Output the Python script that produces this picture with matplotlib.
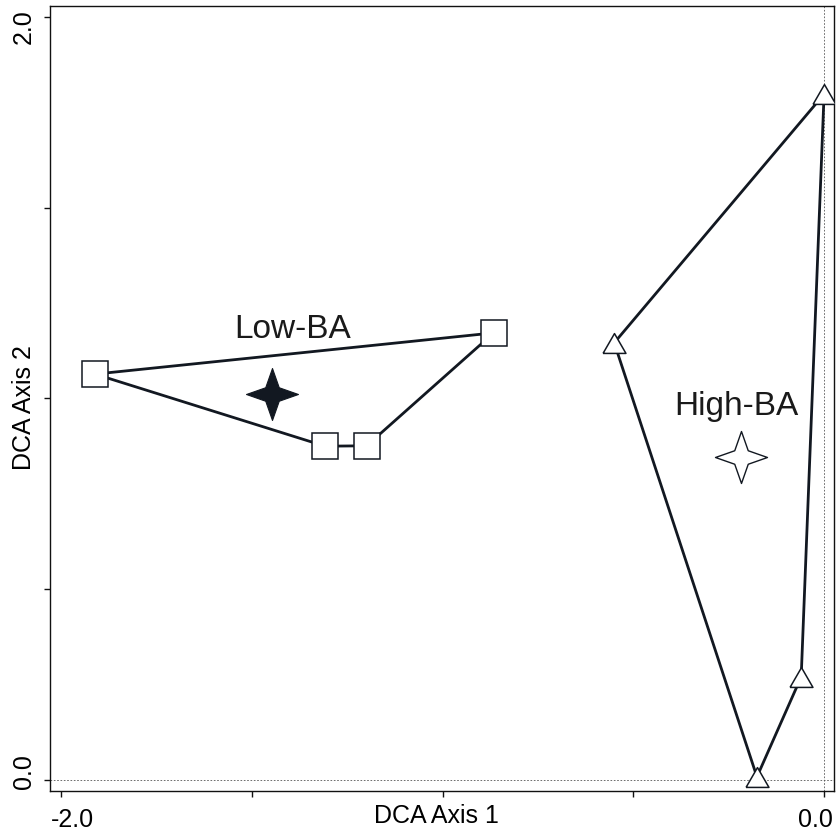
import matplotlib
matplotlib.use("Agg")
import matplotlib.pyplot as plt
import numpy as np
from matplotlib.path import Path

plt.rcParams['font.family'] = ['Liberation Sans', 'DejaVu Sans']

# DCA 样地得分（按凸包顺序）
low_x = [-1.911, -0.866, -1.199, -1.308]
low_y = [1.064, 1.172, 0.876, 0.875]
high_x = [0.000, -0.550, -0.176, -0.060]
high_y = [1.798, 1.146, 0.008, 0.270]

# 两组的质心
centroid_low = (-1.447, 1.011)
centroid_high = (-0.218, 0.847)

group_names = ['Low-BA', 'High-BA']
label_pos = [(-1.392, 1.180), (-0.231, 0.979)]

x_ticklabels = {-2.0: '-2.0', 0.0: '0.0'}
y_ticklabels = {0.0: '0.0', 2.0: '2.0'}

line_col = '#121821'


def star_marker(inner=0.26):
    """四角星形标记：四个尖角 + 向内凹的拐点"""
    pts = []
    for k in range(4):
        a = k * np.pi / 2
        pts.append((np.cos(a), np.sin(a)))
        b = a + np.pi / 4
        pts.append((inner * np.sqrt(2) * np.cos(b), inner * np.sqrt(2) * np.sin(b)))
    pts.append(pts[0])
    return Path(pts, closed=True)


# 等边三角形
tri = [(-1, -0.866), (1, -0.866), (0, 0.866), (-1, -0.866)]

fig = plt.figure(figsize=(8.4, 8.34), dpi=100)
ax = fig.add_axes([50 / 840, 43 / 834, 784 / 840, 785 / 834])

# 零线
ax.axhline(0, color='#555555', lw=0.6, ls=(0, (2, 2)), zorder=1)
ax.axvline(0, color='#555555', lw=0.6, ls=(0, (2, 2)), zorder=1)

# 凸包连线
ax.plot(low_x + low_x[:1], low_y + low_y[:1], color=line_col, lw=2.0, zorder=2)
ax.plot(high_x + high_x[:1], high_y + high_y[:1], color=line_col, lw=2.0, zorder=2)

ax.plot(low_x, low_y, ls='none', marker='s', ms=18.7, mfc='white',
        mec=line_col, mew=1.1, zorder=3)
ax.plot(high_x, high_y, ls='none', marker=tri, ms=16.5, mfc='white',
        mec=line_col, mew=1.1, zorder=3)

star = star_marker()
ax.plot(*centroid_low, ls='none', marker=star, ms=37.4, mfc=line_col,
        mec=line_col, mew=0.8, zorder=3)
ax.plot(*centroid_high, ls='none', marker=star, ms=37.4, mfc='white',
        mec=line_col, mew=1.0, zorder=3)

for name, (tx, ty) in zip(group_names, label_pos):
    ax.text(tx, ty, name, fontsize=24, color='#1a1a1a', ha='center', va='center')

ax.set_xlim(-2.029, 0.026)
ax.set_ylim(-0.029, 2.029)
ax.set_xticks([-2.0, -1.5, -1.0, -0.5, 0.0])
ax.set_yticks([0.0, 0.5, 1.0, 1.5, 2.0])
ax.set_xticklabels([])
ax.set_yticklabels([])
ax.tick_params(direction='out', length=4, width=1.0, color='#111111')
for s in ax.spines.values():
    s.set_linewidth(1.0)
    s.set_color('#111111')

# 只标首尾刻度，稍向内偏移
xt = ax.get_xaxis_transform()
yt = ax.get_yaxis_transform()
x_shift = {-2.0: 8, 0.0: -6}
y_shift = {0.0: 6, 2.0: -7}
for v, s in x_ticklabels.items():
    ax.annotate(s, xy=(v, 0), xycoords=xt, xytext=(x_shift[v], -21),
                textcoords='offset points', ha='center', va='center', fontsize=18)
for v, s in y_ticklabels.items():
    ax.annotate(s, xy=(0, v), xycoords=yt, xytext=(-19, y_shift[v]),
                textcoords='offset points', ha='center', va='center',
                rotation=90, fontsize=18)

ax.set_xlabel('DCA Axis 1', fontsize=18)
ax.set_ylabel('DCA Axis 2', fontsize=18)
ax.xaxis.set_label_coords(0.493, -0.032)
ax.yaxis.set_label_coords(-0.033, 0.488)
ax.xaxis.label.set_va('center')
ax.yaxis.label.set_va('center')

fig.savefig('out.png', dpi=100)
